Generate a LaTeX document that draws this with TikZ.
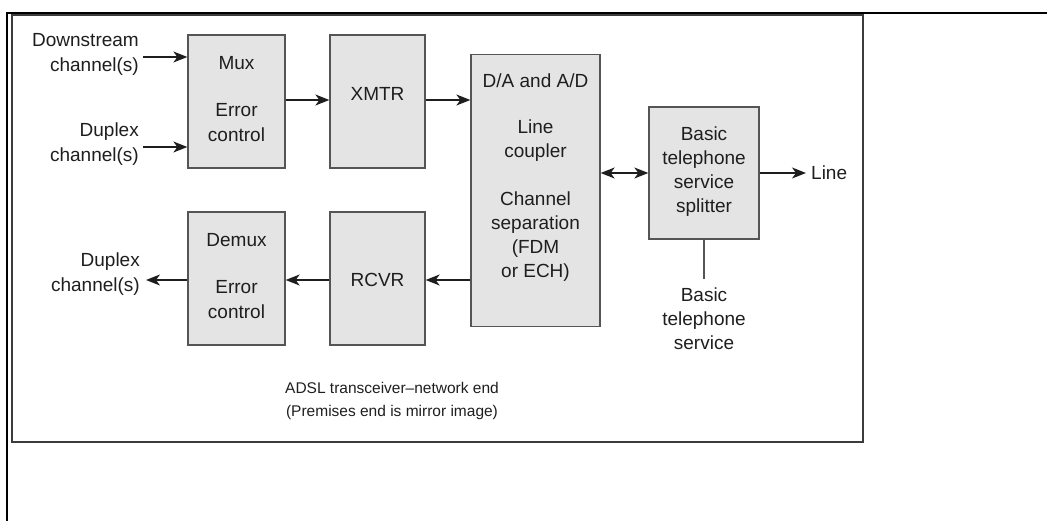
\documentclass[tikz,border=0pt]{standalone}
\usepackage{fontspec}
\setmainfont{Liberation Sans}
\usetikzlibrary{arrows.meta}
\definecolor{boxfill}{HTML}{E4E4E4}
\definecolor{boxline}{HTML}{555555}
\definecolor{ink}{HTML}{1E1E1E}
\definecolor{frameline}{HTML}{3C3C3C}
\tikzset{
  tip/.tip={Stealth[length=14pt,width=11pt,inset=4pt]},
  blk/.style={draw=boxline, fill=boxfill, line width=1.3pt, inner sep=0pt},
  txt/.style={font=\fontsize{19}{25}\selectfont, align=center, text=ink, inner sep=0pt},
  captxt/.style={font=\fontsize{15.5}{23}\selectfont, align=center, text=ink, inner sep=0pt},
  arr/.style={draw=ink, line width=1.3pt, -tip},
  darr/.style={draw=ink, line width=1.3pt, tip-tip},
  conn/.style={draw=boxline, line width=1.5pt}
}
\begin{document}
\begin{tikzpicture}[x=1pt,y=-1pt]
\useasboundingbox (0,0) rectangle (1047,521);
% outer frame lines
\draw[black, line width=2.4pt] (1047,13) -- (7,13) -- (7,521);
% inner frame
\draw[frameline, line width=2pt] (12,15) rectangle (863,442);

% boxes
\node[blk, minimum width=97, minimum height=133] (mux) at (236.5,101.5) {};
\node[blk, minimum width=95, minimum height=133] (xmtr) at (377.5,101.5) {};
\node[blk, minimum width=129, minimum height=272] (da) at (535.5,190.5) {};
\node[blk, minimum width=110, minimum height=132] (splt) at (704,173) {};
\node[blk, minimum width=97, minimum height=133] (demux) at (236.5,278.5) {};
\node[blk, minimum width=95, minimum height=133] (rcvr) at (377.5,278.5) {};

% box texts
\node[txt] (muxt) at (236.5,99) {Mux\\[22pt]Error\\control};
\node[txt] (xmtrt) at (377.5,94) {XMTR};
\node[txt, font=\fontsize{19}{24}\selectfont] (dat) at (535.5,177.5) {D/A and A/D\\[22pt]Line\\coupler\\[24pt]Channel\\separation\\(FDM\\or ECH)};
\node[txt, font=\fontsize{19}{24}\selectfont] (splt t) at (704,171.5) {Basic\\telephone\\service\\splitter};
\node[txt] (demuxt) at (236.5,276) {Demux\\[22pt]Error\\control};
\node[txt] (rcvrt) at (377.5,280) {RCVR};

% outside labels
\node[txt, align=right, anchor=east] (dsin) at (139,54.5) {Downstream\\channel(s)};
\node[txt, align=right, anchor=east] (dpin) at (139,144) {Duplex\\channel(s)};
\node[txt, align=right, anchor=east] (dpout) at (140,274.5) {Duplex\\channel(s)};
\node[txt, anchor=west] (linet) at (811,173) {Line};
\node[txt, font=\fontsize{19}{24}\selectfont] (bts) at (704,319) {Basic\\telephone\\service};
\node[captxt] (cap) at (392,400.5) {ADSL transceiver–network end\\(Premises end is mirror image)};

% free ends
\coordinate (a1) at (143,57);
\coordinate (a2) at (143,147);
\coordinate (a3) at (146,280);

% connectors
\draw[arr] (a1) -- (a1 -| mux.west);
\draw[arr] (a2) -- (a2 -| mux.west);
\draw[arr] (mux.east |- 0,100) -- (xmtr.west |- 0,100);
\draw[arr] (xmtr.east |- 0,100) -- (da.west |- 0,100);
\draw[darr] (da.east |- splt.west) -- (splt.west);
\draw[arr, shorten >=5pt] (splt.east) -- (linet.west);
\draw[arr] (da.west |- 0,280) -- (rcvr.east |- 0,280);
\draw[arr] (rcvr.west |- 0,280) -- (demux.east |- 0,280);
\draw[arr] (demux.west |- a3) -- (a3);
\draw[conn, shorten >=9pt] (splt.south) -- (bts.north);
\end{tikzpicture}
\end{document}
